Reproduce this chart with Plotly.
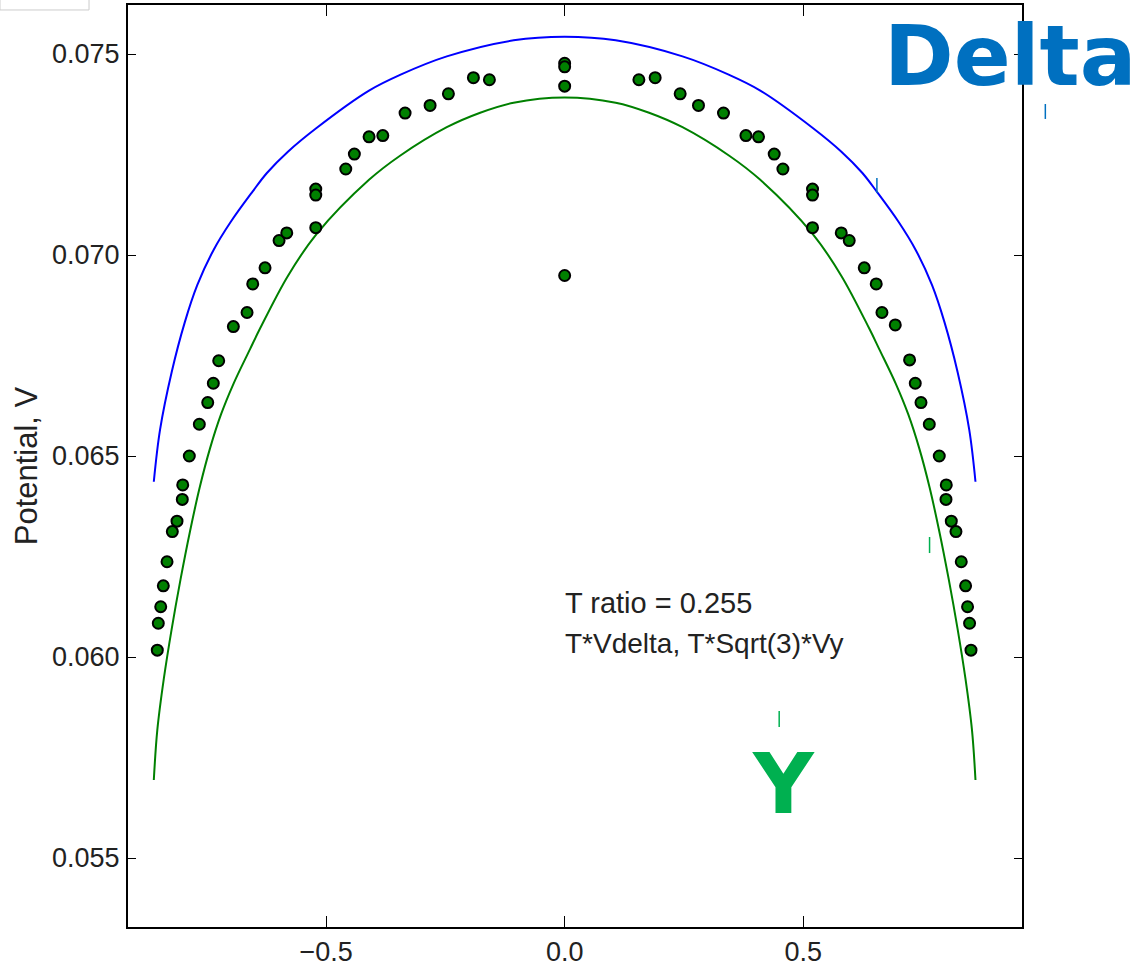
import plotly.graph_objects as go

# Measured potentials (V) versus position
pos_x = [
    -0.8537, -0.8516, -0.8465, -0.8411, -0.8333, -0.8222, -0.8124, -0.8013,
    -0.8004, -0.7866, -0.7656, -0.7480, -0.7363, -0.7250, -0.6943, -0.6656,
    -0.6537, -0.6279, -0.5985, -0.5824, -0.5216, -0.5216, -0.5216, -0.4587,
    -0.4407, -0.4099, -0.3811, -0.3344, -0.2820, -0.2436, -0.1912, -0.1577,
    0.0, 0.0, 0.0, 0.0,
    0.1556, 0.1897, 0.2421, 0.2805, 0.3329, 0.3799, 0.4063, 0.4392,
    0.4574, 0.5195, 0.5195, 0.5195, 0.5797, 0.5964, 0.6279, 0.6530,
    0.6650, 0.6929, 0.7229, 0.7348, 0.7468, 0.7642, 0.7851, 0.7998,
    0.7992, 0.8103, 0.8201, 0.8312, 0.8403, 0.8444, 0.8486, 0.8516,
]
potential = [
    0.06017, 0.06084, 0.06125, 0.06177, 0.06237, 0.06312, 0.06338, 0.06392,
    0.06428, 0.06500, 0.06579, 0.06633, 0.06681, 0.06737, 0.06822, 0.06857,
    0.06928, 0.06968, 0.07036, 0.07055, 0.07164, 0.07149, 0.07068, 0.07214,
    0.07251, 0.07294, 0.07297, 0.07353, 0.07372, 0.07401, 0.07441, 0.07436,
    0.07477, 0.07468, 0.07420, 0.06949,
    0.07436, 0.07441, 0.07401, 0.07372, 0.07353, 0.07297, 0.07294, 0.07251,
    0.07214, 0.07164, 0.07149, 0.07068, 0.07055, 0.07036, 0.06968, 0.06928,
    0.06857, 0.06826, 0.06739, 0.06681, 0.06633, 0.06579, 0.06500, 0.06428,
    0.06392, 0.06338, 0.06312, 0.06237, 0.06177, 0.06125, 0.06084, 0.06017,
]

# T*Vdelta envelope
delta_x = [-0.861, -0.848, -0.8235, -0.796, -0.77, -0.736, -0.70, -0.6545,
           -0.624, -0.58, -0.52, -0.41, -0.345, -0.247, -0.107, 0.0, 0.107,
           0.247, 0.345, 0.41, 0.52, 0.58, 0.624, 0.6545, 0.70, 0.736, 0.77,
           0.796, 0.8235, 0.848, 0.861]
delta_v = [0.06436, 0.06565, 0.06709, 0.06833, 0.06925, 0.07012, 0.07082,
           0.07157, 0.07204, 0.07257, 0.07316, 0.07409, 0.07448, 0.07494,
           0.07534, 0.07543, 0.07534, 0.07494, 0.07448, 0.07409, 0.07316,
           0.07257, 0.07204, 0.07157, 0.07082, 0.07012, 0.06925, 0.06833,
           0.06709, 0.06565, 0.06436]

# T*Sqrt(3)*Vy envelope
y_x = [-0.861, -0.8537, -0.84, -0.8235, -0.805, -0.7851, -0.765, -0.7432,
       -0.72, -0.6943, -0.6593, -0.6384, -0.58, -0.52, -0.41, -0.345, -0.247,
       -0.177, -0.107, 0.0, 0.107, 0.177, 0.247, 0.345, 0.41, 0.52, 0.58,
       0.6384, 0.6593, 0.6943, 0.72, 0.7432, 0.765, 0.7851, 0.805, 0.8235,
       0.84, 0.8537, 0.861]
y_v = [0.05694, 0.05818, 0.05946, 0.06070, 0.06193, 0.06313, 0.06421, 0.06519,
       0.06604, 0.06679, 0.06766, 0.06817, 0.06948, 0.07052, 0.07187, 0.07247,
       0.07318, 0.07354, 0.07379, 0.07392, 0.07379, 0.07354, 0.07318, 0.07247,
       0.07187, 0.07052, 0.06948, 0.06817, 0.06766, 0.06679, 0.06604, 0.06519,
       0.06421, 0.06313, 0.06193, 0.06070, 0.05946, 0.05818, 0.05694]

x_ticks = [-0.5, 0.0, 0.5]
y_ticks = [0.055, 0.060, 0.065, 0.070, 0.075]

SANS = "Liberation Sans, Arial, sans-serif"

fig = go.Figure()
fig.add_trace(go.Scatter(x=delta_x, y=delta_v, mode="lines",
                         line=dict(color="#0000ff", width=2, shape="spline", smoothing=1.0),
                         showlegend=False, hoverinfo="skip"))
fig.add_trace(go.Scatter(x=y_x, y=y_v, mode="lines",
                         line=dict(color="#008000", width=2, shape="spline", smoothing=1.0),
                         showlegend=False, hoverinfo="skip"))
fig.add_trace(go.Scatter(x=pos_x, y=potential, mode="markers",
                         marker=dict(color="#008000", size=11,
                                     line=dict(color="black", width=2)),
                         showlegend=False))

axis_common = dict(
    showline=True, linecolor="black", linewidth=2, mirror="ticks",
    ticks="inside", tickcolor="black", tickwidth=1,
    showgrid=False, zeroline=False, automargin=False,
    tickfont=dict(family=SANS, size=27, color="#222222"),
)

fig.update_layout(
    width=1146, height=968,
    margin=dict(l=128, r=124, t=5, b=41),
    paper_bgcolor="white", plot_bgcolor="white",
    xaxis=dict(range=[-0.9151, 0.9585], tickvals=x_ticks, tickformat=".1f",
               ticklen=11, ticklabelstandoff=0, **axis_common),
    yaxis=dict(range=[0.053284, 0.076219], tickvals=y_ticks, tickformat=".3f",
               ticklen=8, ticklabelstandoff=1,
               title=dict(text="Potential, V", standoff=5,
                          font=dict(family=SANS, size=31, color="#222222")),
               **axis_common),
    annotations=[
        dict(x=-0.003, y=0.06134, xref="x", yref="y", text="T ratio = 0.255",
             showarrow=False, xanchor="left", yanchor="middle",
             font=dict(family=SANS, size=29, color="#222222")),
        dict(x=-0.003, y=0.06033, xref="x", yref="y", text="T*Vdelta, T*Sqrt(3)*Vy",
             showarrow=False, xanchor="left", yanchor="middle",
             font=dict(family=SANS, size=28, color="#222222")),
        dict(x=0.987, y=0.9447, xref="paper", yref="paper", text="<b>Delta</b>",
             showarrow=False, xanchor="center", yanchor="middle",
             font=dict(family="DejaVu Sans", size=84, color="#0070C0")),
        dict(x=0.458, y=0.05685, xref="x", yref="y", text="<b>Y</b>",
             showarrow=False, xanchor="center", yanchor="middle",
             font=dict(family="DejaVu Sans", size=84, color="#00B050")),
    ],
    shapes=[
        # small box in the top-left corner
        dict(type="rect", xref="paper", yref="paper", x0=-0.1432, x1=-0.0436,
             y0=0.9946, y1=1.01, line=dict(color="#cccccc", width=1),
             fillcolor="white", layer="above"),
        # short coloured pointer strokes
        dict(type="line", xref="paper", yref="paper", x0=1.0261, x1=1.0261,
             y0=0.8764, y1=0.8926, line=dict(color="#0070C0", width=1.5)),
        dict(type="line", xref="paper", yref="paper", x0=0.8377, x1=0.8377,
             y0=0.7961, y1=0.8124, line=dict(color="#0070C0", width=1.5)),
        dict(type="line", xref="paper", yref="paper", x0=0.8966, x1=0.8966,
             y0=0.4056, y1=0.4230, line=dict(color="#00B050", width=1.5)),
        dict(type="line", xref="paper", yref="paper", x0=0.7284, x1=0.7284,
             y0=0.2169, y1=0.2343, line=dict(color="#00B050", width=1.5)),
    ],
)

fig.write_html("out.html")
